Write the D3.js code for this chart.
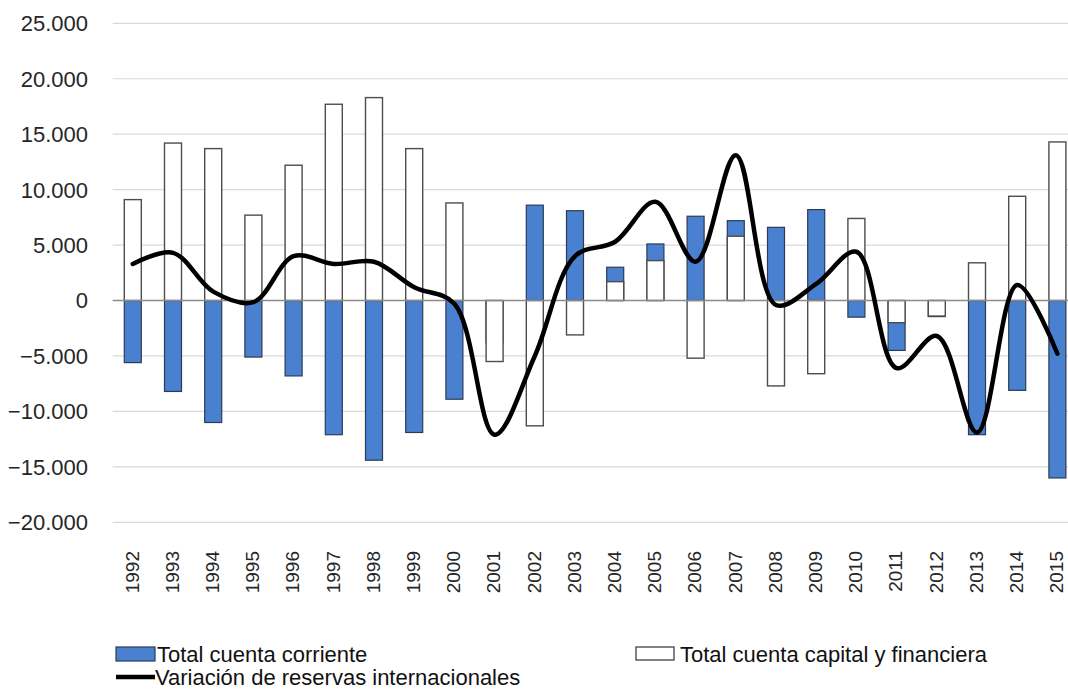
<!DOCTYPE html>
<html>
<head>
<meta charset="utf-8">
<script src="https://cdn.jsdelivr.net/npm/d3@7"></script>
<style>
  html, body { margin: 0; padding: 0; background: #fff; }
  svg { display: block; font-family: "Liberation Sans", Arial, sans-serif; }
</style>
</head>
<body>
<svg id="chart" width="1068" height="697"></svg>
<script>
// data, in millions
const years = ["1992","1993","1994","1995","1996","1997","1998","1999","2000","2001","2002","2003",
  "2004","2005","2006","2007","2008","2009","2010","2011","2012","2013","2014","2015"];
const cuentaCorriente = [-5600,-8200,-11000,-5100,-6800,-12100,-14400,-11900,-8900,-3800,8600,8100,
  3000,5100,7600,7200,6600,8200,-1500,-4500,-1450,-12100,-8100,-16000];
const cuentaCapital = [9100,14200,13700,7700,12200,17700,18300,13700,8800,-5500,-11300,-3100,
  1700,3600,-5200,5800,-7700,-6600,7400,-2000,-1400,3400,9400,14300];
const variacionReservas = [3300,4300,800,-150,4000,3300,3500,1200,-300,-12100,-5000,4000,
  5300,8900,3500,13100,-400,1500,4400,-6100,-3200,-11900,1400,-4800];
const yTicks = [25000,20000,15000,10000,5000,0,-5000,-10000,-15000,-20000];

const svg = d3.select("#chart");

const x = d3.scaleBand()
  .domain(years)
  .range([112.7, 1077.5])
  .paddingInner(0.577)
  .paddingOuter(0.2885);

const y = d3.scaleLinear()
  .domain([-20000, 25000])
  .range([522.3, 23.3]);

const fmt = d3.formatLocale({ decimal: ",", thousands: ".", grouping: [3], currency: ["", ""] }).format(",d");

// grid
svg.append("g")
  .selectAll("line")
  .data(yTicks.filter(d => d !== 0))
  .join("line")
  .attr("x1", 112.7)
  .attr("x2", 1077.5)
  .attr("y1", d => y(d))
  .attr("y2", d => y(d))
  .attr("stroke", "#d9d9d9")
  .attr("stroke-width", 1.2);

// y labels
svg.append("g")
  .selectAll("text")
  .data(yTicks)
  .join("text")
  .attr("x", 88)
  .attr("y", d => y(d))
  .attr("dy", "0.36em")
  .attr("text-anchor", "end")
  .attr("font-size", 22)
  .attr("fill", "#262626")
  .text(d => fmt(d));

// blue bars first, white ones overlap them
svg.append("g")
  .selectAll("rect")
  .data(cuentaCorriente)
  .join("rect")
  .attr("x", (d, i) => x(years[i]))
  .attr("width", x.bandwidth())
  .attr("y", d => y(Math.max(0, d)))
  .attr("height", d => Math.abs(y(d) - y(0)))
  .attr("fill", "#4a80d0")
  .attr("stroke", "#2b3b55")
  .attr("stroke-width", 1.2);

svg.append("g")
  .selectAll("rect")
  .data(cuentaCapital)
  .join("rect")
  .attr("x", (d, i) => x(years[i]))
  .attr("width", x.bandwidth())
  .attr("y", d => y(Math.max(0, d)))
  .attr("height", d => Math.abs(y(d) - y(0)))
  .attr("fill", "#fff")
  .attr("stroke", "#4d4d4d")
  .attr("stroke-width", 1.4);

// zero line
svg.append("line")
  .attr("x1", 112.7)
  .attr("x2", 1077.5)
  .attr("y1", y(0))
  .attr("y2", y(0))
  .attr("stroke", "#8c8c8c")
  .attr("stroke-width", 1.4);

// reserves line
const line = d3.line()
  .x((d, i) => x(years[i]) + x.bandwidth() / 2)
  .y(d => y(d))
  .curve(d3.curveCatmullRom.alpha(0.5));

svg.append("path")
  .datum(variacionReservas)
  .attr("d", line)
  .attr("fill", "none")
  .attr("stroke", "#000")
  .attr("stroke-width", 4.5)
  .attr("stroke-linejoin", "round")
  .attr("stroke-linecap", "round");

// x labels
svg.append("g")
  .selectAll("text")
  .data(years)
  .join("text")
  .attr("transform", d => `translate(${x(d) + x.bandwidth() / 2},551) rotate(-90)`)
  .attr("dy", "0.3em")
  .attr("text-anchor", "end")
  .attr("font-size", 19)
  .attr("fill", "#262626")
  .text(d => d);

// legend
const legend = svg.append("g").attr("font-size", 22).attr("fill", "#111");

legend.append("rect")
  .attr("x", 116).attr("y", 647).attr("width", 39).attr("height", 14)
  .attr("fill", "#4a80d0").attr("stroke", "#2b3b55").attr("stroke-width", 1.2);
legend.append("text").attr("x", 157).attr("y", 662).text("Total cuenta corriente");

legend.append("rect")
  .attr("x", 636).attr("y", 647).attr("width", 38).attr("height", 13)
  .attr("fill", "#fff").attr("stroke", "#4d4d4d").attr("stroke-width", 1.4);
legend.append("text").attr("x", 680).attr("y", 662).text("Total cuenta capital y financiera");

legend.append("line")
  .attr("x1", 116).attr("x2", 155).attr("y1", 677).attr("y2", 677)
  .attr("stroke", "#000").attr("stroke-width", 4.5);
legend.append("text").attr("x", 155).attr("y", 685).text("Variación de reservas internacionales");
</script>
</body>
</html>
